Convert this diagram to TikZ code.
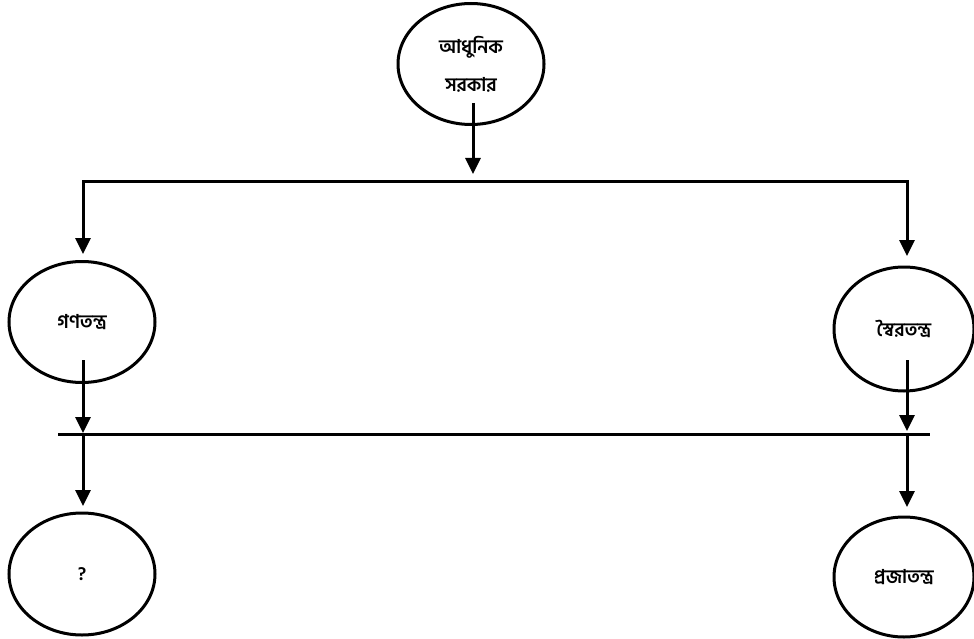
\documentclass[tikz,border=0pt]{standalone}
\usepackage{fontspec}
\newfontfamily\bn[Script=Bengali]{Hind Siliguri}
\usetikzlibrary{arrows.meta,shapes.geometric}
\begin{document}
\begin{tikzpicture}[x=1pt,y=-1pt,
  oval/.style={ellipse, draw, line width=3pt, minimum width=146pt, minimum height=121pt,
    inner sep=0pt, font=\bn\bfseries\fontsize{19}{38}\selectfont, align=center},
  conn/.style={line width=3pt},
  arr/.style={conn, -{Triangle[length=16pt,width=15pt]}}]
\useasboundingbox (0,0) rectangle (974,639);
% nodes
\node[oval] (top) at (471,64) {আধুনিক\\সরকার};
\node[oval] (left) at (82,322) {গণতন্ত্র};
\node[oval, minimum width=140pt, minimum height=124pt] (right) at (904,329) {স্বৈরতন্ত্র};
\node[oval, minimum height=122pt] (q) at (82,574) {?};
\node[oval, minimum width=140pt, minimum height=120pt] (praja) at (904,577) {প্রজাতন্ত্র};
% coordinates
\coordinate (t0) at (473,103);
\coordinate (t1) at (473,174);
\coordinate (b1) at (473,182);
\coordinate (l1) at (83,254);
\coordinate (r1) at (907,256);
\coordinate (l2a) at (83,360);
\coordinate (l2b) at (83,433);
\coordinate (r2a) at (907,360);
\coordinate (r2b) at (907,431);
\coordinate (bl) at (58,434);
\coordinate (br) at (930,434);
\coordinate (l3a) at (83,434);
\coordinate (l3b) at (83,506);
\coordinate (r3a) at (907,434);
\coordinate (r3b) at (907,507);
% connectors
\draw[arr] (t0) -- (t1);
\draw[arr] (b1) -| (l1);
\draw[arr] (b1) -| (r1);
\draw[arr] (l2a) -- (l2b);
\draw[arr] (r2a) -- (r2b);
\draw[conn] (bl) -- (br);
\draw[arr] (l3a) -- (l3b);
\draw[arr] (r3a) -- (r3b);
\end{tikzpicture}
\end{document}
